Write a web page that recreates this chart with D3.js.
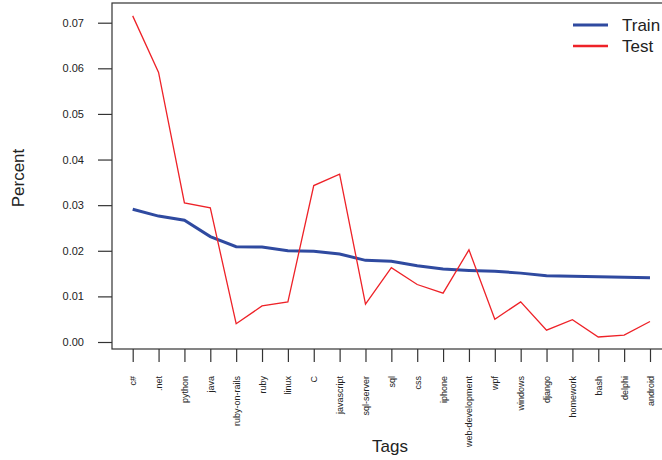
<!DOCTYPE html>
<html><head><meta charset="utf-8">
<script src="https://cdn.jsdelivr.net/npm/d3@7"></script>
<style>body{margin:0;background:#fff}svg{display:block}text{font-family:"Liberation Sans",Arial,sans-serif;fill:#222}</style>
</head><body>
<script>
const tags = ["c#",".net","python","java","ruby-on-rails","ruby","linux","C","javascript","sql-server","sql","css","iphone","web-development","wpf","windows","django","homework","bash","delphi","android"];
const train = [0.0291,0.0276,0.0267,0.0231,0.0209,0.0208,0.0200,0.0199,0.0193,0.0179,0.0177,0.0167,0.0160,0.0157,0.0155,0.0151,0.0145,0.0144,0.0143,0.0142,0.0141];
const test = [0.0715,0.0591,0.0305,0.0294,0.0040,0.0079,0.0088,0.0343,0.0368,0.0083,0.0163,0.0126,0.0107,0.0202,0.0050,0.0088,0.0026,0.0049,0.0011,0.0015,0.0045];
const yTicks = [0,0.01,0.02,0.03,0.04,0.05,0.06,0.07];
const seriesNames = ["Train","Test"];

(function(){
const W=662,H=460;
const svg=d3.select("body").append("svg").attr("width",W).attr("height",H);
const x=d3.scalePoint().domain(tags).range([132.7,650]);
const y=d3.scaleLinear().domain([0,0.07]).range([342,22.7]);
const pl=112, pt=3, pb=349, pr=671;

svg.append("rect").attr("x",pl).attr("y",pt).attr("width",pr-pl).attr("height",pb-pt)
  .attr("fill","none").attr("stroke","#333").attr("stroke-width",1.2);

const ya=svg.append("g").attr("transform",`translate(${pl},0)`)
  .call(d3.axisLeft(y).tickValues(yTicks).tickFormat(d3.format(".2f")).tickSize(14).tickPadding(14));
ya.select(".domain").remove();
ya.selectAll("line").attr("stroke","#333").attr("stroke-width",1.2);
ya.selectAll("text").attr("font-size",11).attr("fill","#333").style("font-family","Liberation Sans, Arial, sans-serif");

const xa=svg.append("g").attr("transform",`translate(0,${pb})`)
  .call(d3.axisBottom(x).tickSize(13).tickPadding(0));
xa.select(".domain").remove();
xa.selectAll("line").attr("stroke","#333").attr("stroke-width",1.2);
xa.selectAll("text").attr("font-size",9).attr("fill","#333").style("font-family","Liberation Sans, Arial, sans-serif")
  .attr("text-anchor","end").attr("dy",null)
  .attr("transform","translate(3,27) rotate(-90)").attr("y",0).attr("x",0);

const line=d3.line().x((d,i)=>x(tags[i])).y(d=>y(d));
svg.append("path").datum(train).attr("d",line).attr("fill","none").attr("stroke","#2f4aa0").attr("stroke-width",3);
svg.append("path").datum(test).attr("d",line).attr("fill","none").attr("stroke","#ee2228").attr("stroke-width",1.3);

svg.append("text").attr("x",390).attr("y",452).attr("text-anchor","middle").attr("font-size",17).text("Tags");
svg.append("text").attr("transform","translate(24,178) rotate(-90)").attr("text-anchor","middle").attr("font-size",17).text("Percent");

const lg=svg.append("g");
const colors=["#2f4aa0","#ee2228"], widths=[3,2.5];
seriesNames.forEach((n,i)=>{
  const yy=25+i*21;
  lg.append("line").attr("x1",573).attr("x2",608).attr("y1",yy).attr("y2",yy).attr("stroke",colors[i]).attr("stroke-width",widths[i]);
  lg.append("text").attr("x",622).attr("y",yy+6).attr("font-size",17).text(n);
});
})();
</script>
</body></html>
